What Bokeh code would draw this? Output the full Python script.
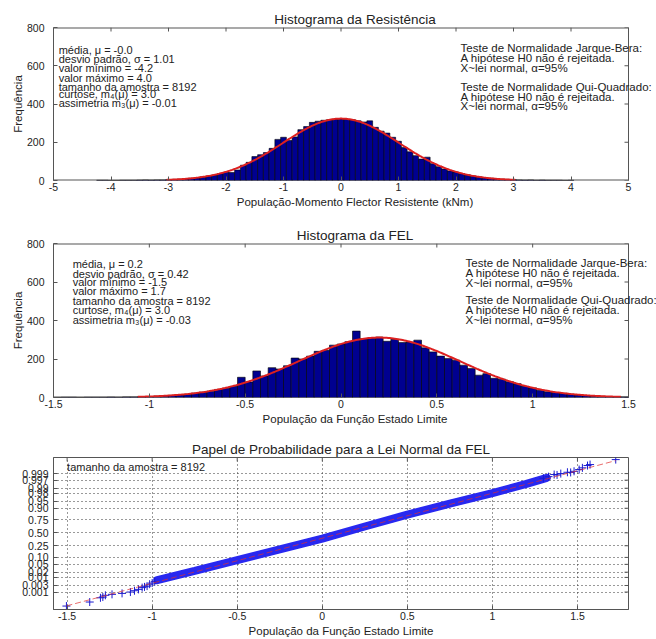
import numpy as np
from statistics import NormalDist
from bokeh.plotting import figure
from bokeh.models import Range1d, FixedTicker, Label
from bokeh.embed import file_html
from bokeh.resources import INLINE

FONT = "Liberation Sans"
N_SAMPLE = 8192

# ---------------- Panel 1: Histograma da Resistência ----------------
res_title = "Histograma da Resistência"
res_xlabel = "População-Momento Flector Resistente (kNm)"
res_bin_start = -4.2
res_bin_width = 0.1
res_counts = [1, 1, 0, 0, 1, 1, 1, 2, 3, 2, 3, 3, 4,
              6, 7, 9, 12, 14, 19, 24, 29, 36, 43,
              42, 55, 80, 95, 125, 135, 146, 168, 215, 226,
              209, 228, 266, 282, 304, 310, 315, 318, 321, 322,
              320, 318, 312, 306, 312, 278, 258, 248, 226, 205,
              172, 150, 130, 112, 122, 88, 72, 60, 50, 44,
              36, 30, 24, 19, 15, 12, 9, 7, 6, 4,
              3, 2, 3, 1, 2, 1, 1, 1, 0, 1]
res_mu, res_sigma = 0.0, 1.01
res_xticks = [-5, -4, -3, -2, -1, 0, 1, 2, 3, 4, 5]
res_xtick_labels = ["-5", "-4", "-3", "-2", "-1", "0", "1", "2", "3", "4", "5"]
res_stats = ["média, μ = -0.0", "desvio padrão, σ = 1.01", "valor mínimo = -4.2",
             "valor máximo = 4.0", "tamanho da amostra = 8192",
             "curtose, m₄(μ) = 3.0", "assimetria m₃(μ) = -0.01"]

# ---------------- Panel 2: Histograma da FEL ----------------
fel_title = "Histograma da FEL"
fel_xlabel = "População da Função Estado Limite"
fel_bin_start = -1.48
fel_bin_width = 0.04
fel_counts = [0, 1, 1, 0, 1, 1, 1, 2, 1, 3,
              3, 4, 5, 7, 9, 11, 14, 17, 23, 28,
              33, 42, 48, 58, 105, 80, 138, 112, 155, 148,
              165, 205, 200, 215, 240, 245, 272, 278, 290, 345,
              305, 310, 314, 292, 302, 286, 288, 298, 258, 237,
              215, 203, 194, 168, 151, 116, 124, 100, 95, 82,
              72, 58, 50, 38, 30, 26, 22, 17, 13, 10,
              8, 6, 5, 4, 3, 2, 1, 1, 0, 1]
fel_mu, fel_sigma = 0.2, 0.42
fel_xticks = [-1.5, -1, -0.5, 0, 0.5, 1, 1.5]
fel_xtick_labels = ["-1.5", "-1", "-0.5", "0", "0.5", "1", "1.5"]
fel_stats = ["média, μ = 0.2", "desvio padrão, σ = 0.42", "valor mínimo = -1.5",
             "valor máximo = 1.7", "tamanho da amostra = 8192",
             "curtose, m₄(μ) = 3.0", "assimetria m₃(μ) = -0.03"]

hist_yticks = [0, 200, 400, 600, 800]
tests_text = ["Teste de Normalidade Jarque-Bera:", "A hipótese H0 não é rejeitada.",
              "X~lei normal, α=95%", "Teste de Normalidade Qui-Quadrado:",
              "A hipótese H0 não é rejeitada.", "X~lei normal, α=95%"]

# ---------------- Panel 3: Papel de Probabilidade ----------------
qq_title = "Papel de Probabilidade para a Lei Normal da FEL"
qq_band_x = [-0.97, -0.75, -0.5, -0.25, 0.0, 0.25, 0.5, 0.75, 1.0, 1.2, 1.32]
qq_band_z = [-2.47, -1.98, -1.42, -0.86, -0.30, 0.33, 0.95, 1.52, 2.07, 2.55, 2.87]
qq_tail_x = [-1.504, -1.367, -1.304, -1.29, -1.275, -1.236, -1.177, -1.128, -1.104,
             -1.08, -1.059, -1.045, -1.03, -1.015, -1.0, -0.985, 1.30, 1.33, 1.363,
             1.38, 1.402, 1.441, 1.46, 1.48, 1.51, 1.529, 1.559, 1.574, 1.725]
qq_tail_z = [-3.82, -3.61, -3.39, -3.35, -3.26, -3.21, -3.16, -3.09, -3.02,
             -2.95, -2.86, -2.82, -2.78, -2.68, -2.62, -2.55, 2.85, 2.93, 3.04,
             3.02, 3.09, 3.16, 3.15, 3.21, 3.30, 3.39, 3.51, 3.56, 3.82]
qq_ref_mu, qq_ref_sigma = 0.12, 0.426
prob_ticks = [0.001, 0.003, 0.01, 0.02, 0.05, 0.10, 0.25, 0.50, 0.75, 0.90,
              0.95, 0.98, 0.99, 0.997, 0.999]
prob_labels = ["0.001", "0.003", "0.01", "0.02", "0.05", "0.10", "0.25", "0.50",
               "0.75", "0.90", "0.95", "0.98", "0.99", "0.997", "0.999"]
qq_note = "tamanho da amostra = 8192"

AX = "#555555"
TXT = "#222222"
FIG_W = 656
BORDER_L, BORDER_R = 53, 28
FRAME_W = FIG_W - BORDER_L - BORDER_R   # width of the drawn box


def style_axis(ax, standoff):
    ax.axis_line_color = AX
    ax.major_tick_line_color = AX
    ax.major_tick_in = 4
    ax.major_tick_out = 0
    ax.minor_tick_line_color = None
    ax.major_label_text_font = FONT
    ax.major_label_text_font_size = "10.5px"
    ax.major_label_text_color = TXT
    ax.major_label_standoff = standoff
    ax.axis_label_text_font = FONT
    ax.axis_label_text_font_size = "11.5px"
    ax.axis_label_text_font_style = "normal"
    ax.axis_label_text_color = TXT


def make_fig(height, frame_h, xr, yr, title, b_top, xticks, xlabels, yticks, ylabels,
             open_right=False):
    """open_right: the plotting area runs on to the right edge of the canvas so that
    the text may overflow the box, as in the original; the box is then drawn by hand."""
    b_bottom = height - b_top - frame_h
    ext = BORDER_R if open_right else 0
    x_end = xr[1] + ext * (xr[1] - xr[0]) / FRAME_W
    p = figure(width=FIG_W, height=height, x_range=Range1d(xr[0], x_end),
               y_range=Range1d(*yr), output_backend="svg", toolbar_location=None,
               min_border_left=BORDER_L, min_border_right=BORDER_R - ext,
               min_border_top=b_top, min_border_bottom=b_bottom, title=title)
    p.title.align = "center"
    p.title.text_font = FONT
    p.title.text_font_size = "13.5px"
    p.title.text_font_style = "normal"
    p.title.text_color = TXT
    p.title.standoff = 2
    p.xgrid.visible = False
    p.ygrid.visible = False
    xa, ya = p.below[0], p.left[0]
    style_axis(xa, 2)
    style_axis(ya, 9)
    xa.ticker = FixedTicker(ticks=xticks)
    xa.major_label_overrides = dict(zip(xticks, xlabels))
    ya.ticker = FixedTicker(ticks=yticks)
    if ylabels is not None:
        ya.major_label_overrides = dict(zip(yticks, ylabels))
    if open_right:
        p.outline_line_color = None
        xa.axis_line_color = None
        p.segment(x0=[xr[0], xr[1], xr[0]], y0=[yr[1], yr[0], yr[0]],
                  x1=[xr[1], xr[1], xr[1]], y1=[yr[1], yr[1], yr[0]],
                  line_color=AX, line_width=[2, 1, 2])
    else:
        p.outline_line_color = AX
    # inward ticks on the top and right edges of the box (MATLAB style)
    dy = 4 * (yr[1] - yr[0]) / frame_h
    dx = 4 * (xr[1] - xr[0]) / FRAME_W
    p.segment(x0=xticks, y0=[yr[1]] * len(xticks), x1=xticks,
              y1=[yr[1] - dy] * len(xticks), line_color=AX, line_width=1)
    p.segment(x0=[xr[1]] * len(yticks), y0=yticks, x1=[xr[1] - dx] * len(yticks),
              y1=yticks, line_color=AX, line_width=1)
    return p


def add_lines(p, x, ys, lines, size):
    for yy, t in zip(ys, lines):
        p.add_layout(Label(x=x, y=yy, text=t, text_font=FONT, text_font_size=size,
                           text_baseline="middle", text_color=TXT))


def hist_panel(height, frame_h, xr, title, xlabel, b_top, xticks, xlabels,
               start, width, counts, mu, sigma, stats, stats_x, stats_y, tests_x, tests_y):
    p = make_fig(height, frame_h, xr, (0, 800), title, b_top, xticks, xlabels,
                 hist_yticks, None, open_right=True)
    centers = [start + i * width for i in range(len(counts))]
    keep = [i for i, c in enumerate(centers) if c < xr[1]]
    p.vbar(x=[centers[i] for i in keep], top=[counts[i] for i in keep], width=width,
           fill_color="#000090", line_color="#000000", line_width=0.6)
    xs = np.linspace(mu - 3 * sigma, min(mu + 3 * sigma, xr[1]), 300)
    ys = N_SAMPLE * width * np.exp(-0.5 * ((xs - mu) / sigma) ** 2) / (sigma * np.sqrt(2 * np.pi))
    p.line(xs, ys, line_color="#dd2020", line_width=2)
    p.below[0].axis_label = xlabel
    p.below[0].axis_label_standoff = 2
    p.left[0].axis_label = "Frequência"
    p.left[0].axis_label_standoff = 0
    add_lines(p, stats_x, stats_y, stats, "11px")
    add_lines(p, tests_x, tests_y, tests_text, "11.5px")
    return p


p1 = hist_panel(214, 153, (-5, 5), res_title, res_xlabel, 27, res_xticks, res_xtick_labels,
                res_bin_start, res_bin_width, res_counts, res_mu, res_sigma, res_stats,
                -4.91, [683, 634, 586, 537, 491, 450, 406],
                2.08, [695, 643, 586, 487, 436, 387])

p2 = hist_panel(214, 154, (-1.5, 1.5), fel_title, fel_xlabel, 29, fel_xticks, fel_xtick_labels,
                fel_bin_start, fel_bin_width, fel_counts, fel_mu, fel_sigma, fel_stats,
                -1.40, [694, 643, 599, 551, 500, 457, 405],
                0.65, [698, 648, 594, 507, 456, 404])

nd = NormalDist()
z_ticks = [nd.inv_cdf(q) for q in prob_ticks]
p3 = make_fig(211, 154, (-1.58, 1.80), (-4.0, 3.93), qq_title, 29, fel_xticks,
              fel_xtick_labels, z_ticks, prob_labels)
p3.xgrid.visible = True
p3.ygrid.visible = True
for g in (p3.xgrid[0], p3.ygrid[0]):
    g.grid_line_color = "#333333"
    g.grid_line_dash = "1 3"
    g.grid_line_width = 1
p3.below[0].axis_label = "População da Função Estado Limite"
p3.below[0].axis_label_standoff = 2
p3.left[0].major_label_standoff = 5

p3.line(qq_band_x, qq_band_z, line_color="#2828f0", line_width=8, line_cap="round")
p3.scatter(qq_tail_x, qq_tail_z, marker="cross", size=8, line_color="#1a1ad0", line_width=1)
ref_x = np.array([min(qq_tail_x), max(qq_tail_x)])
ref_z = (ref_x - qq_ref_mu) / qq_ref_sigma
p3.line(ref_x, ref_z, line_color="#e03030", line_width=1, line_dash="6 3", alpha=0.7)
p3.add_layout(Label(x=-1.50, y=3.41, text=qq_note, text_font=FONT, text_font_size="11px",
                    text_baseline="middle", text_color=TXT))

# three separate roots, stacked on the page (keeps each panel's own borders)
open("out.html", "w").write(file_html([p1, p2, p3], INLINE))
